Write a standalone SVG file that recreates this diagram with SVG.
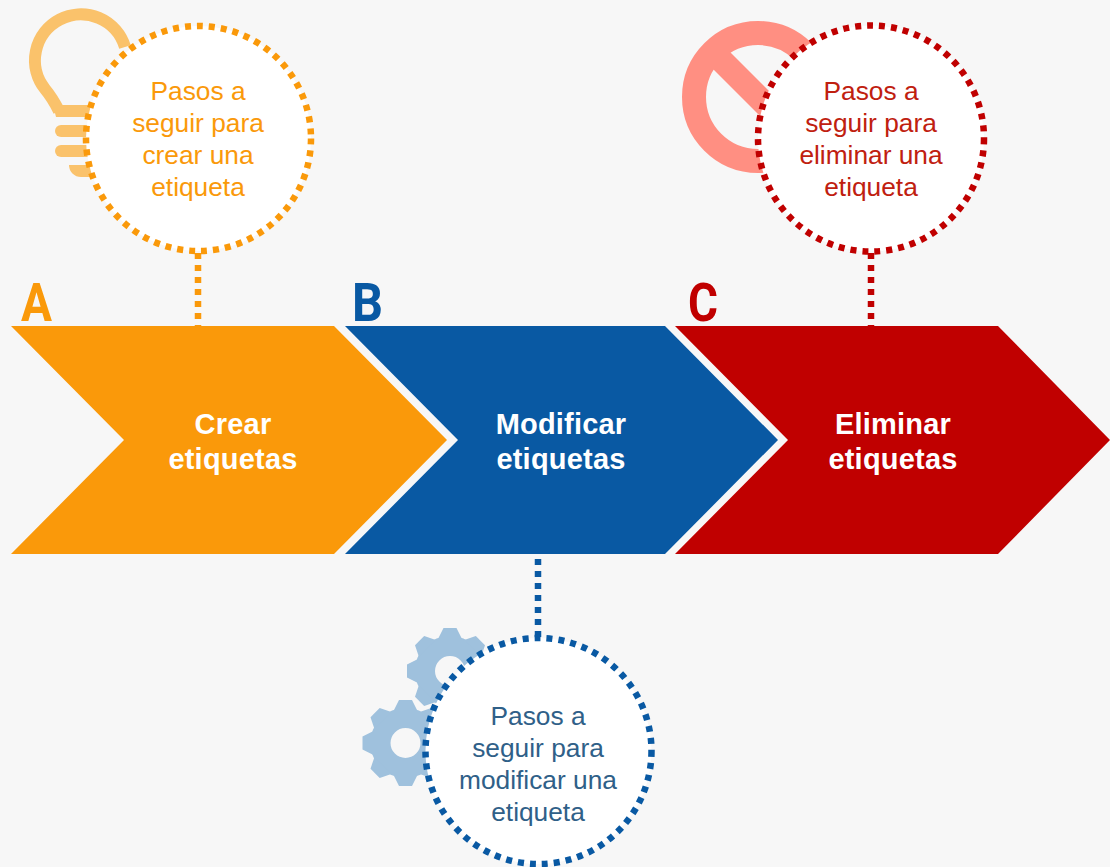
<svg xmlns="http://www.w3.org/2000/svg" xmlns:xlink="http://www.w3.org/1999/xlink" width="1110" height="867" viewBox="0 0 1110 867">
<style>
.lbl{font-family:"Liberation Sans",Arial,sans-serif;font-size:26.3px;text-anchor:middle}
.ttl{font-family:"Liberation Sans",Arial,sans-serif;font-size:29px;font-weight:700;fill:#fff;text-anchor:middle;letter-spacing:.2px}
.ltr{font-family:"Roboto",sans-serif;font-size:53px;font-weight:700}
.dot{fill:#fff;stroke-width:6.5;stroke-dasharray:6 6}
.conn{fill:none;stroke-width:6.5;stroke-dasharray:6 6}
.gear{fill:#9fc1dd}
</style>
<defs>
<g id="gear">
<circle r="25" fill="none" stroke="#9fc1dd" stroke-width="20"/>
<g id="t2"><polygon id="tooth" class="gear" points="-12,-32 -6.5,-43 6.5,-43 12,-32"/>
<use xlink:href="#tooth" href="#tooth" transform="rotate(45)"/></g>
<use xlink:href="#t2" href="#t2" transform="rotate(90)"/>
<use xlink:href="#t2" href="#t2" transform="rotate(180)"/>
<use xlink:href="#t2" href="#t2" transform="rotate(270)"/>
</g>
</defs>
<rect width="1110" height="867" fill="#f7f7f7"/>
<g id="icons">
<g id="icon-bulb" fill="#fac26b">
<path d="M59 111 C54 101 50 95 45 89 A46 46 0 1 1 125 47" fill="none" stroke="#fac26b" stroke-width="12"/>
<path d="M53 105 H95 V117 H56 Z"/>
<rect x="55" y="125" width="40" height="12" rx="6"/>
<rect x="55" y="145" width="40" height="12" rx="6"/>
<path d="M69 165 H95 V177 H81 A12 12 0 0 1 69 165 Z"/>
</g>
<g id="icon-ban" fill="none" stroke="#ff8f82" stroke-width="24">
<circle cx="758" cy="97" r="64"/>
<line x1="713" y1="52" x2="803" y2="142"/>
</g>
<g id="icon-gears">
<use xlink:href="#gear" href="#gear" transform="translate(450 671)"/>
<use xlink:href="#gear" href="#gear" transform="translate(405.500 743)"/>
</g>
</g>
<g id="connectors">
<line class="conn" stroke="#fa990a" x1="198" y1="253" x2="198" y2="326"/>
<line class="conn" stroke="#0959a3" x1="538" y1="559" x2="538" y2="637"/>
<line class="conn" stroke="#c00000" x1="871" y1="253" x2="871" y2="326"/>
</g>
<g id="step-a">
<polygon fill="#fa990a" points="11,326 334,326 447,440 334,554 11,554 124,440"/>
<text class="ltr" fill="#fa990a" x="21" y="321" textLength="31" lengthAdjust="spacingAndGlyphs">A</text>
<text class="ttl" x="233" y="434">Crear</text>
<text class="ttl" x="233" y="469">etiquetas</text>
</g>
<g id="step-b">
<polygon fill="#0959a3" points="345,326 665,326 778,440 665,554 345,554 458,440"/>
<text class="ltr" fill="#0959a3" x="352" y="321" textLength="31" lengthAdjust="spacingAndGlyphs">B</text>
<text class="ttl" x="561" y="434">Modificar</text>
<text class="ttl" x="561" y="469">etiquetas</text>
</g>
<g id="step-c">
<polygon fill="#c00000" points="675,326 998,326 1110,440 998,554 675,554 788,440"/>
<text class="ltr" fill="#c00000" x="688" y="321" textLength="30" lengthAdjust="spacingAndGlyphs">C</text>
<text class="ttl" x="893" y="434">Eliminar</text>
<text class="ttl" x="893" y="469">etiquetas</text>
</g>
<g id="note-a">
<circle class="dot" stroke="#fa990a" cx="198.500" cy="138.500" r="112.500"/>
<g class="lbl" fill="#fa990a">
<text x="198" y="100">Pasos a</text><text x="198" y="132">seguir para</text><text x="198" y="164">crear una</text><text x="198" y="196">etiqueta</text>
</g>
</g>
<g id="note-b">
<circle class="dot" stroke="#0959a3" cx="538.500" cy="751" r="113"/>
<g class="lbl" fill="#2f6088">
<text x="538" y="725">Pasos a</text><text x="538" y="757">seguir para</text><text x="538" y="789">modificar una</text><text x="538" y="821">etiqueta</text>
</g>
</g>
<g id="note-c">
<circle class="dot" stroke="#c00000" cx="871" cy="138.500" r="113"/>
<g class="lbl" fill="#c0200f">
<text x="871" y="100">Pasos a</text><text x="871" y="132">seguir para</text><text x="871" y="164">eliminar una</text><text x="871" y="196">etiqueta</text>
</g>
</g>
</svg>
